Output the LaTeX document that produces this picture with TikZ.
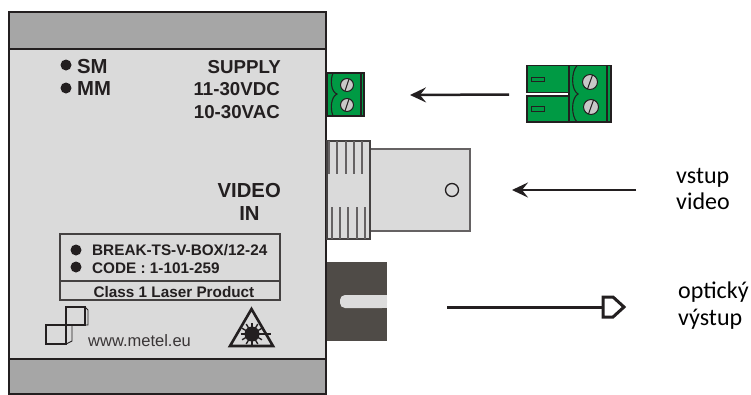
\documentclass[tikz,border=0pt]{standalone}
\usepackage{fontspec}
\setmainfont{Liberation Sans}
\newfontfamily\captionfont{Carlito}
\usetikzlibrary{positioning,arrows.meta}
\definecolor{inkc}{HTML}{231F20}
\definecolor{bodyc}{HTML}{DADADA}
\definecolor{bandc}{HTML}{A6A6A6}
\definecolor{greenc}{HTML}{009A44}
\definecolor{screwc}{HTML}{C8C8C8}
\definecolor{sfpc}{HTML}{4F4B47}
\tikzset{
  panel/.style={draw=inkc, line width=1.6pt, fill=bodyc},
  band/.style={draw=inkc, line width=1.6pt, fill=bandc},
  part/.style={draw=inkc!70, line width=1.1pt, fill=bodyc},
  rib/.style={draw=inkc!70, line width=1.1pt},
  plug/.style={draw=inkc, line width=1.1pt, fill=greenc},
  screw/.style={circle, draw=inkc, line width=1pt, fill=screwc, inner sep=0pt},
  led/.style={circle, fill=inkc, inner sep=0pt, minimum size=11pt},
  legend/.style={inner sep=0pt, text=inkc, font=\bfseries\fontsize{18.7}{20}\selectfont},
  legendbig/.style={inner sep=0pt, text=inkc, font=\bfseries\fontsize{20.3}{22}\selectfont},
  info/.style={inner sep=0pt, text=inkc, font=\bfseries\fontsize{15.3}{17}\selectfont},
  web/.style={inner sep=0pt, text=inkc!90, font=\fontsize{16.5}{18}\selectfont},
  caption/.style={inner sep=0pt, text=black, font=\captionfont\fontsize{24}{26}\selectfont},
  arrow/.style={draw=inkc, line width=2.5pt, -{Stealth[length=16pt,width=15pt,inset=6pt]}},
  node distance=7pt
}
\begin{document}
\begin{tikzpicture}[x=1pt,y=-1pt]
	\useasboundingbox (0,0) rectangle (751,394);
	% housing
	\draw[panel] (9,12) rectangle (326,394);
	\draw[band] (9,12) rectangle (326,49);
	\draw[band] (9,359) rectangle (326,394);
	\node[led] (ledSM) at (66,65) {};
	\node[led] (ledMM) at (66,88) {};
	\node[legendbig, anchor=base west] (sm) at (77,73) {SM};
	\node[legendbig, anchor=base west] (mm) at (77,95) {MM};
	\node[legend, anchor=base east] (supply) at (281,73) {SUPPLY};
	\node[legend, anchor=base east] (vdc) at (280,95) {11-30VDC};
	\node[legend, anchor=base east] (vac) at (280,118) {10-30VAC};
	\node[legendbig, anchor=base east] (video) at (281,197) {VIDEO};
	\node[legendbig, anchor=base] (in) at (249.5,220) {IN};
	% label
	\draw[draw=inkc!85, line width=1.1pt] (60,234) rectangle (280,300);
	\draw[draw=inkc!85, line width=1.1pt] (60,281) -- (280,281);
	\node[led] (ledType) at (76,250) {};
	\node[led] (ledCode) at (76,267) {};
	\node[info, anchor=base west] (type) at (92,255) {BREAK-TS-V-BOX/12-24};
	\node[info, anchor=base west] (code) at (92,273) {CODE : 1-101-259};
	\node[info, anchor=base] (laser) at (174,297) {Class 1 Laser Product};
	% logo
	\draw[draw=inkc, line width=1.1pt] (66,325) -- (66,307) -- (85,307) -- (85,325) -- (46,325) -- (46,344) -- (66,344) -- (66,325);
	\draw[draw=inkc, line width=.9pt] (85,307) -- (88,310) -- (88,325) -- (85,325);
	\draw[draw=inkc, line width=.9pt] (66,344) -- (72,341) -- (72,325);
	\node[web, anchor=base west] (web) at (88,346) {www.metel.eu};
	% laser sign
	\draw[draw=inkc, line width=2.6pt, line join=miter, fill=bodyc] (251.5,309) -- (273,346) -- (230,346) -- cycle;
	\node[circle, fill=inkc, inner sep=0pt, minimum size=15pt] (sun) at (252,334) {};
	\foreach \a in {0,30,...,330}
		\draw[draw=inkc, line width=1.4pt] (sun.center) -- ++(\a:11.5);
	\draw[draw=inkc, line width=1.2pt] (sun.center) -- (271,334);
	% terminal block
	\draw[plug] (327,73) rectangle (364,116);
	\draw[plug, fill=none] (361,73) -- (361,116);
	\draw[plug, fill=none] (333,73) .. controls (330,80) and (331,92) .. (337,94) .. controls (331,97) and (330,108) .. (333,116);
	\node[screw, minimum size=13pt] (screwA) at (347,85) {};
	\node[screw, minimum size=13pt] (screwB) at (347,105) {};
	\draw[draw=inkc, line width=1pt] (345,91) -- (349,79);
	\draw[draw=inkc, line width=1pt] (345,111) -- (349,99);
	% loose plug
	\draw[plug] (527,65.5) rectangle (569,92.5);
	\draw[plug] (527,96) rectangle (569,122);
	\draw[plug] (569,65.5) rectangle (611,122);
	\draw[plug, fill=none] (607,65.5) -- (607,122);
	\draw[plug, fill=none] (577,65.5) .. controls (571,72) and (571,90) .. (578,94) .. controls (571,98) and (571,116) .. (577,122);
	\draw[draw=inkc, line width=1pt] (531,77) rectangle (544,81.5);
	\draw[draw=inkc, line width=1pt] (531,106) rectangle (544,111);
	\node[screw, minimum size=15pt] (screwC) at (590,82) {};
	\node[screw, minimum size=15pt] (screwD) at (591,107) {};
	\draw[draw=inkc, line width=1pt] (587.5,89) -- (592.5,75);
	\draw[draw=inkc, line width=1pt] (588.5,114) -- (593.5,100);
	% BNC
	\draw[part] (370,149) rectangle (470,231);
	\draw[part, draw=inkc!85] (327,141) rectangle (370,239);
	\foreach \x in {329,337,346,354,362}
		\draw[rib] (\x,141) -- (\x,174);
	\foreach \x in {332,340,348,357,365}
		\draw[rib] (\x,207) -- (\x,239);
	\node[circle, draw=inkc, line width=1.3pt, inner sep=0pt, minimum size=13pt] (hole) at (452,190) {};
	% fibre port
	\fill[sfpc] (327,262) rectangle (387,341);
	\fill[bodyc!95!white, rounded corners=5pt] (340,295) -- (387,295) -- (387,308) -- (340,308) -- cycle;
	\fill[bodyc!95!white] (370,295) rectangle (387,308);
	% arrows
	\coordinate (plugtail) at (509,94.5);
	\coordinate (plughead) at (410,95);
	\coordinate (videotail) at (636,190);
	\coordinate (videohead) at (512,190);
	\coordinate (fibretail) at (447,307);
	\coordinate (fibrehead) at (603,307);
	\draw[arrow] (plugtail) -- (plughead);
	\draw[arrow] (videotail) -- (videohead);
	\draw[draw=inkc, line width=3pt] (fibretail) -- (fibrehead);
	\draw[draw=inkc, line width=3pt, fill=white, line join=miter] (fibrehead) ++(0,-10) -- ++(10,0) -- ++(11,10) -- ++(-11,10) -- ++(-10,0) -- cycle;
	% captions
	\node[caption, anchor=base west] (vstup) at (676,183) {vstup};
	\node[caption, anchor=base west] (vid) at (676,209) {video};
	\node[caption, anchor=base west] (opt) at (678,298) {optický};
	\node[caption, anchor=base west] (vys) at (678,325) {výstup};
\end{tikzpicture}
\end{document}
